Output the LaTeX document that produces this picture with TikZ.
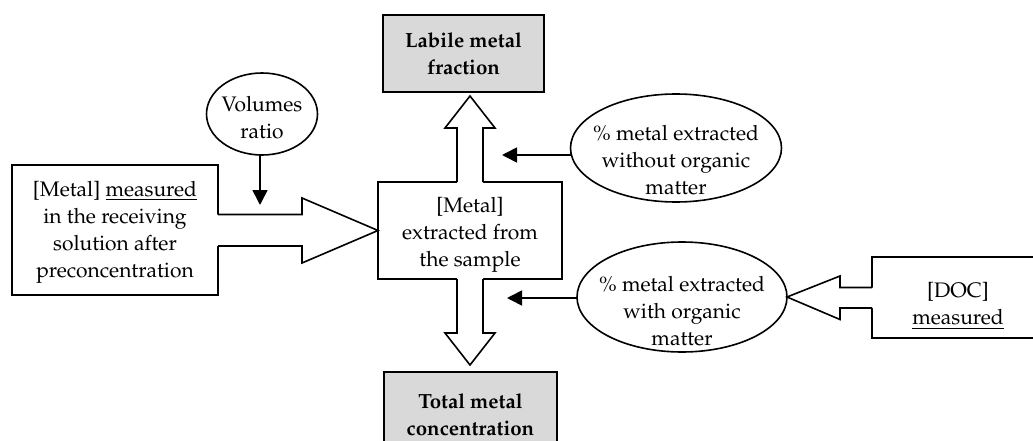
\documentclass[tikz,border=0pt]{standalone}
\usepackage[T1]{fontenc}
\usepackage{mathpazo}
\usetikzlibrary{shapes.geometric,arrows.meta,calc}
\definecolor{boxgray}{RGB}{217,217,217}
\begin{document}
\begin{tikzpicture}[x=1pt,y=-1pt,
  every node/.style={font=\fontsize{21}{27}\selectfont, align=center, inner sep=0pt, outer sep=0pt},
  box/.style={draw, line width=1.6pt, rectangle, fill=white},
  graybox/.style={draw, line width=1.6pt, rectangle, fill=boxgray, font=\fontsize{20.5}{27}\selectfont\bfseries},
  ell/.style={draw, line width=1.6pt, ellipse, fill=white},
  txt/.style={},
  outline/.style={draw, line width=1.6pt, line join=miter},
  arr/.style={draw, line width=1.6pt, -{Triangle[length=15pt,width=15pt]}}
]
\useasboundingbox (0,0) rectangle (1033,441);

% boxes
\node[graybox, minimum width=161, minimum height=77] (lab) at (463.5,53.5) {Labile metal\\fraction};
\node[graybox, minimum width=173, minimum height=78] (tot) at (470.5,411) {};
\node[txt, font=\fontsize{20.5}{27}\selectfont\bfseries] (tott) at (470.5,415) {Total metal\\concentration};
\node[box, minimum width=184, minimum height=97] (c) at (470,230.5) {};
\node[txt] (ct) at (470,235) {[Metal]\\extracted from\\the sample};
\node[box, minimum width=206, minimum height=130] (lb) at (115,230) {};
\node[txt] (lbt) at (115,232) {[Metal] \underline{measured}\\in the receiving\\solution after\\preconcentration};
\node[box, minimum width=168, minimum height=81] (doc) at (956,297.5) {};
\node[txt] (doct) at (958,306) {[DOC]\\\underline{measured}};

% ellipses
\node[ell, minimum width=111, minimum height=82] (v) at (262,114) {};
\node[txt] (vt) at (262,118) {Volumes\\ratio};
\node[ell, minimum width=211, minimum height=108] (e1) at (676,148) {};
\node[txt] (e1t) at (676,160) {\% metal extracted\\without organic\\matter};
\node[ell, minimum width=210, minimum height=110] (e2) at (682,297) {};
\node[txt] (e2t) at (682,311) {\% metal extracted\\with organic\\matter};

% block arrow up
\fill[white] ($(c.north)+(-13,2)$) -- ($(c.north)+(-13,-54)$) -- ($(c.north)+(-25,-54)$) -- ($(c.north)+(0,-86)$) -- ($(c.north)+(25,-54)$) -- ($(c.north)+(13,-54)$) -- ($(c.north)+(13,2)$) -- cycle;
\draw[outline] ($(c.north)+(-13,0)$) -- ($(c.north)+(-13,-54)$) -- ($(c.north)+(-25,-54)$) -- ($(c.north)+(0,-86)$) -- ($(c.north)+(25,-54)$) -- ($(c.north)+(13,-54)$) -- ($(c.north)+(13,0)$);
% block arrow down
\fill[white] ($(c.south)+(-13,-2)$) -- ($(c.south)+(-13,54)$) -- ($(c.south)+(-25,54)$) -- ($(c.south)+(0,86)$) -- ($(c.south)+(25,54)$) -- ($(c.south)+(13,54)$) -- ($(c.south)+(13,-2)$) -- cycle;
\draw[outline] ($(c.south)+(-13,0)$) -- ($(c.south)+(-13,54)$) -- ($(c.south)+(-25,54)$) -- ($(c.south)+(0,86)$) -- ($(c.south)+(25,54)$) -- ($(c.south)+(13,54)$) -- ($(c.south)+(13,0)$);
% block arrow left -> center
\fill[white] ($(lb.east)+(-2,-15.5)$) -- ($(lb.east)+(84,-15.5)$) -- ($(lb.east)+(84,-32)$) -- (c.west) -- ($(lb.east)+(84,33)$) -- ($(lb.east)+(84,16)$) -- ($(lb.east)+(-2,16)$) -- cycle;
\draw[outline] ($(lb.east)+(0,-15.5)$) -- ($(lb.east)+(84,-15.5)$) -- ($(lb.east)+(84,-32)$) -- (c.west) -- ($(lb.east)+(84,33)$) -- ($(lb.east)+(84,16)$) -- ($(lb.east)+(0,16)$);
% block arrow DOC -> e2
\fill[white] ($(doc.west)+(2,-10)$) -- ($(doc.west)+(-32,-10)$) -- ($(doc.west)+(-32,-21.5)$) -- (e2.east) -- ($(doc.west)+(-32,22)$) -- ($(doc.west)+(-32,10.5)$) -- ($(doc.west)+(2,10.5)$) -- cycle;
\draw[outline] ($(doc.west)+(0,-10)$) -- ($(doc.west)+(-32,-10)$) -- ($(doc.west)+(-32,-21.5)$) -- (e2.east) -- ($(doc.west)+(-32,22)$) -- ($(doc.west)+(-32,10.5)$) -- ($(doc.west)+(0,10.5)$);

% line arrows
\coordinate (tv) at (260,205);
\coordinate (t1) at (502,155);
\coordinate (t2) at (507,298);
\draw[arr] (v.south -| tv) -- (tv);
\draw[arr] ($(e1.west)+(0,7)$) -- (t1);
\draw[arr] ($(e2.west)+(0,1)$) -- (t2);
\end{tikzpicture}
\end{document}
